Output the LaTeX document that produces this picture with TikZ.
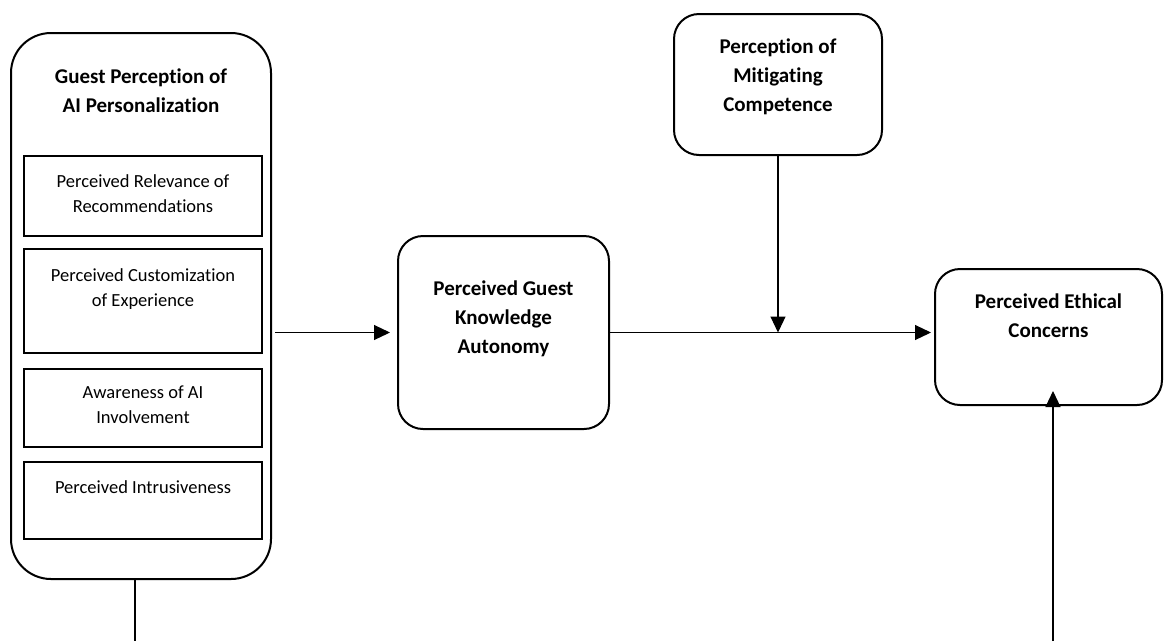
\documentclass[tikz,border=0pt]{standalone}
\usepackage{fontspec}
\setmainfont{Carlito}[RawFeature={-liga}]
\usetikzlibrary{arrows.meta}
\newcommand{\boxcontent}[6]{\parbox[c][#2][t]{#1}{\fontsize{#3}{#4}\selectfont\centering\vspace*{#5}\strut#6\par}}
\tikzset{
  roundbox/.style={draw, line width=2pt, rounded corners=25pt, inner sep=0pt},
  subbox/.style={draw, line width=2.5pt, inner sep=0pt},
  conn/.style={line width=1.1pt, -{Triangle[length=16pt,width=15pt]}},
  plainline/.style={line width=1.1pt}
}
\begin{document}
\begin{tikzpicture}[x=1pt,y=-1pt]
\useasboundingbox (0,0) rectangle (1164,641);
% left composite box
\node[roundbox, rounded corners=40pt] (gp) at (141,306)
  {\boxcontent{260pt}{546pt}{21}{29}{30.5pt}{\bfseries Guest Perception of\\AI Personalization}};
\node[subbox] (s1) at (143,196)
  {\boxcontent{238pt}{80pt}{18.5}{25.5}{13.15pt}{Perceived Relevance of\\Recommendations}};
\node[subbox] (s2) at (143,301)
  {\boxcontent{238pt}{104pt}{18.5}{25.5}{14.15pt}{Perceived Customization\\of Experience}};
\node[subbox] (s3) at (143,408)
  {\boxcontent{238pt}{78pt}{18.5}{25.5}{11.15pt}{Awareness of AI\\Involvement}};
\node[subbox] (s4) at (143,500.5)
  {\boxcontent{238pt}{77pt}{18.5}{25.5}{13.15pt}{Perceived Intrusiveness}};
% other constructs
\node[roundbox] (pgk) at (503.5,332.5)
  {\boxcontent{211pt}{193pt}{21}{29}{38.7pt}{\bfseries Perceived Guest\\Knowledge\\Autonomy}};
\node[roundbox] (pmc) at (778,84.5)
  {\boxcontent{208pt}{141pt}{21}{29}{18.7pt}{\bfseries Perception of\\Mitigating\\Competence}};
\node[roundbox] (pec) at (1048.5,337)
  {\boxcontent{227pt}{136pt}{21}{29}{18.7pt}{\bfseries Perceived Ethical\\Concerns}};
% free ends at the lower edge
\coordinate (gpout) at (135,641);
\coordinate (pecin) at (1053,641);
% connectors
\draw[conn, shorten <=3pt, shorten >=7pt] (gp.east |- pgk.west) -- (pgk.west);
\draw[conn, shorten >=3pt] (pgk.east) -- (pgk.east -| pec.west);
\draw[conn] (pmc.south) -- (pmc.south |- pgk.east);
\draw[conn, shorten >=-15pt] (pecin) -- (pecin |- pec.south);
\draw[plainline] (gpout |- gp.south) -- (gpout);
\end{tikzpicture}
\end{document}
